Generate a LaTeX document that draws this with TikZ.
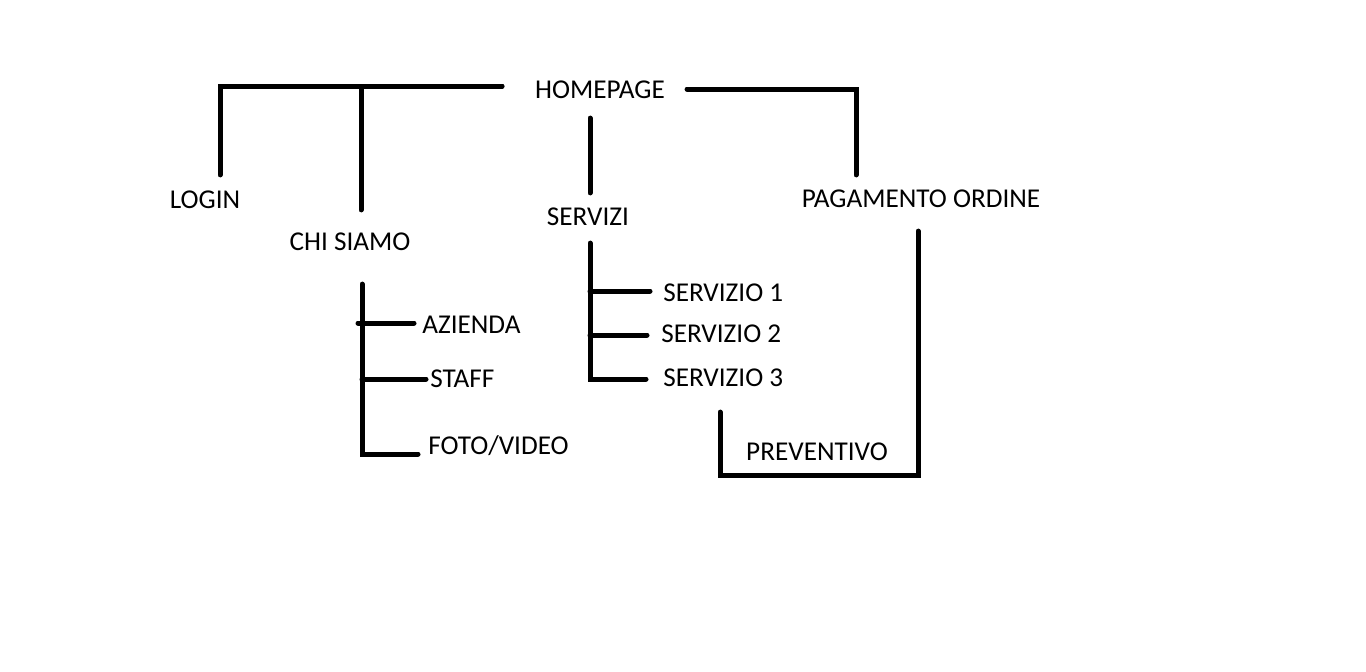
\documentclass[tikz,border=0pt]{standalone}
\usepackage{fontspec}
\setmainfont{Carlito}
\usetikzlibrary{calc}

\begin{document}
\begin{tikzpicture}
	[ x=0.75pt, y=-0.75pt,
		page/.style={inner sep=0pt,text depth=0pt,font=\fontsize{20.4}{24}\selectfont},
		subpage/.style={page,anchor=west},
		link/.style={line width=3.75pt,line cap=round}]

	\useasboundingbox (0,0) rectangle (1366,671);

	\node[page] (homepage) at (600,90) {HOMEPAGE};
	\node[page] (login) at (205,200) {LOGIN};
	\node[page] (chi siamo) at (350,242) {CHI SIAMO};
	\node[page] (servizi) at (588,217) {SERVIZI};
	\node[page] (pagamento) at (921,199) {PAGAMENTO ORDINE};
	\node[subpage] (azienda) at (422,325) {AZIENDA};
	\node[subpage] (staff) at (430,379) {STAFF};
	\node[subpage] (foto video) at (428,445) {FOTO/VIDEO};
	\node[subpage] (servizio 1) at (663,293) {SERVIZIO 1};
	\node[subpage] (servizio 2) at (661,334) {SERVIZIO 2};
	\node[subpage] (servizio 3) at (663,378) {SERVIZIO 3};
	\node[page] (preventivo) at (817,452) {PREVENTIVO};

	\coordinate (top left) at ($(homepage.west)+(-33,-4)$);
	\coordinate (chi trunk) at ($(chi siamo.south)+(12,33)$);
	\coordinate (servizi trunk) at ($(servizi.south)+(2,17)$);

	% homepage
	\draw[link] (top left) -| ($(login.north)+(15,-16)$);
	\draw[link] ($(chi siamo.north)+(11,-23)$) |- (top left);
	\draw[link] ($(homepage.east)+(22,-1)$) -| ($(pagamento.north)+(-65,-15)$);
	\draw[link] ($(homepage.south)+(-10,19)$) -- ($(servizi.north)+(2,-15)$);

	% chi siamo
	\draw[link] (chi trunk) |- ($(foto video.west)+(-10,9)$);
	\draw[link] ($(azienda.west)+(-64,-2)$) -- ($(azienda.west)+(-8,-2)$);
	\draw[link] (chi trunk |- staff.west) -- ($(staff.west)+(-4,0)$);

	% servizi
	\draw[link] (servizi trunk) |- ($(servizio 3.west)+(-17,1)$);
	\draw[link] (servizi trunk |- servizio 1.west) ++(0,-2) -- ($(servizio 1.west)+(-13,-2)$);
	\draw[link] (servizi trunk |- servizio 2.west) ++(0,1) -- ($(servizio 2.west)+(-14,1)$);

	% pagamento ordine
	\draw[link] ($(pagamento.south)+(-3,23)$) |- ($(preventivo.south)+(0,14)$) -| ($(servizio 3.south west)+(57,25)$);
\end{tikzpicture}
\end{document}
